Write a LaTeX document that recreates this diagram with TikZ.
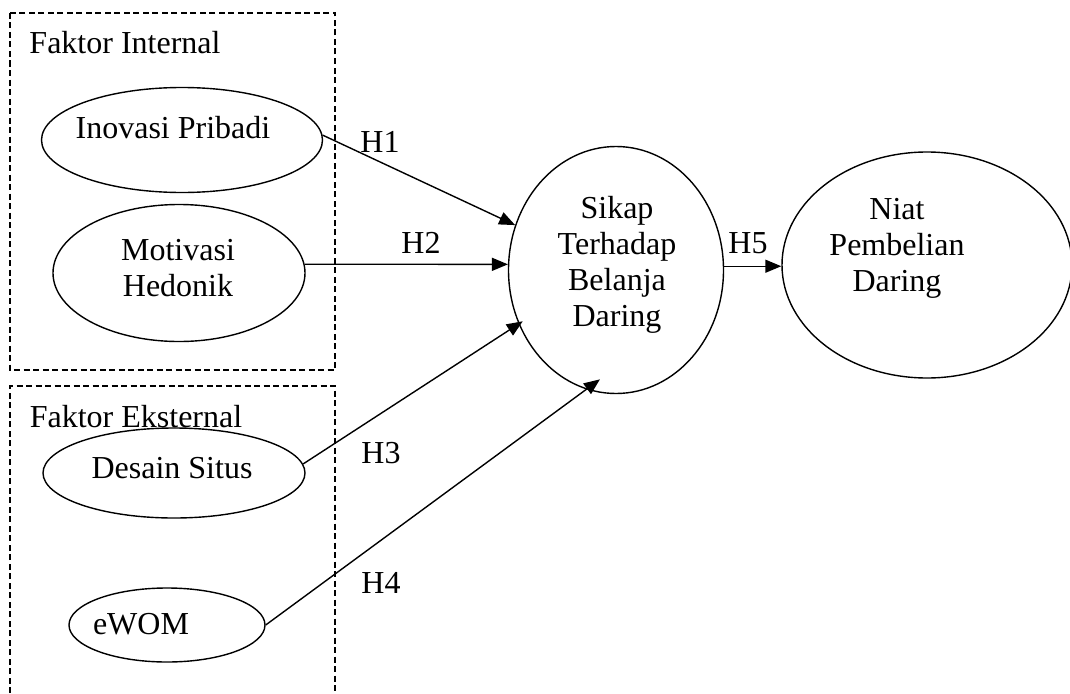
\documentclass[tikz,border=0pt]{standalone}
\usepackage{fontspec}
\setmainfont{Liberation Serif}
\usetikzlibrary{shapes.geometric,arrows.meta}

\begin{document}
\begin{tikzpicture}[x=1pt,y=-1pt,
		konstruk/.style={draw, ellipse, line width=1.4pt, inner sep=0pt},
		teks/.style={font=\fontsize{32}{36}\selectfont, align=center, inner sep=0pt},
		panah/.style={line width=1.4pt, -{Triangle[length=16pt,width=13pt]}},
		kotak/.style={line width=1.5pt, dash pattern=on 6pt off 3.5pt}]
		\useasboundingbox (0,0) rectangle (1070,693);
		% faktor internal
		\draw[kotak] (10,13) rectangle (335,370);
		\node[teks, anchor=base] (internal) at (125,53) {Faktor Internal};
		\node[konstruk, minimum width=281pt, minimum height=105pt] (inovasi) at (182,140) {};
		\node[teks, anchor=base] (tinovasi) at (173,138) {Inovasi Pribadi};
		\node[konstruk, minimum width=252pt, minimum height=137pt] (motivasi) at (179,273) {};
		\node[teks] (tmotivasi) at (178,268) {Motivasi\\Hedonik};
		% faktor eksternal
		\coordinate (ekskiri) at (10,693);
		\coordinate (ekskanan) at (335,693);
		\draw[kotak] (ekskiri) -- (10,386) -- (335,386) -- (ekskanan);
		\node[teks, anchor=base] (eksternal) at (136,427) {Faktor Eksternal};
		\node[konstruk, minimum width=262pt, minimum height=90pt] (desain) at (174,473) {};
		\node[teks, anchor=base] (tdesain) at (172,478) {Desain Situs};
		\node[konstruk, minimum width=196pt, minimum height=74pt] (ewom) at (167,625) {};
		\node[teks, anchor=base] (tewom) at (141,634) {eWOM};
		% sikap dan niat
		\node[konstruk, minimum width=215pt, minimum height=247pt] (sikap) at (616,270) {};
		\node[teks] (tsikap) at (617,264.5) {Sikap\\Terhadap\\Belanja\\Daring};
		\node[konstruk, minimum width=290pt, minimum height=226pt] (niat) at (927,265) {};
		\node[teks] (tniat) at (897,248.5) {Niat\\Pembelian\\Daring};
		% hipotesis
		\draw[panah] (inovasi.2) -- (sikap.156);
		\draw[panah] (motivasi.4) -- (sikap.177);
		\draw[panah, shorten >=-5pt] (desain.4) -- (sikap.209);
		\draw[panah, shorten >=-17pt] (ewom.east) -- (sikap.256);
		\draw[panah] (sikap.2) -- (sikap.2 -| niat.west);
		\node[teks, anchor=base] (h1) at (380,152) {H1};
		\node[teks, anchor=base] (h2) at (421,253) {H2};
		\node[teks, anchor=base] (h3) at (381,463) {H3};
		\node[teks, anchor=base] (h4) at (381,593) {H4};
		\node[teks, anchor=base] (h5) at (748,253) {H5};
	\end{tikzpicture}
\end{document}
